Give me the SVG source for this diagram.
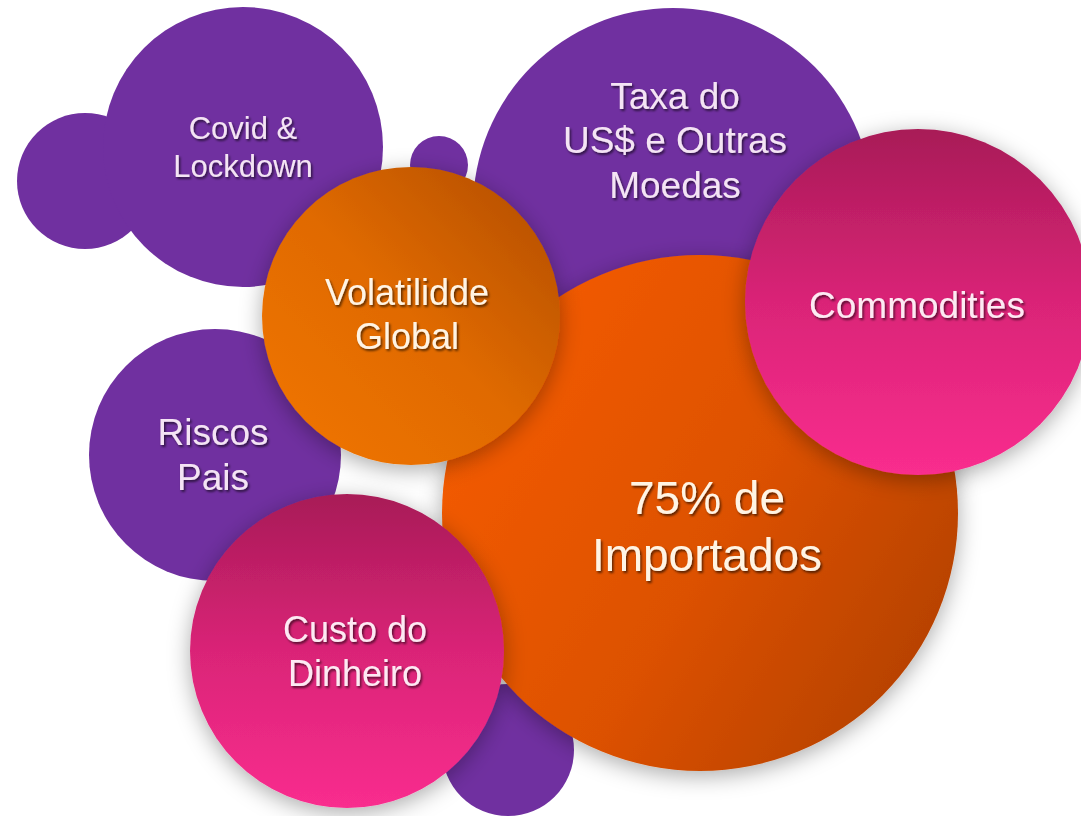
<svg xmlns="http://www.w3.org/2000/svg" width="1081" height="816" viewBox="0 0 1081 816">
<defs>
<linearGradient id="gVol" x1="0" y1="1" x2="1" y2="0">
<stop offset="0" stop-color="#F27600"/>
<stop offset="0.5" stop-color="#E06A00"/>
<stop offset="1" stop-color="#B04C00"/>
</linearGradient>
<linearGradient id="gImp" x1="0" y1="0.2" x2="1" y2="0.8">
<stop offset="0" stop-color="#F65C00"/>
<stop offset="0.55" stop-color="#DC5100"/>
<stop offset="1" stop-color="#B24000"/>
</linearGradient>
<linearGradient id="gPink" x1="0" y1="0" x2="0" y2="1">
<stop offset="0" stop-color="#A81B57"/>
<stop offset="0.5" stop-color="#DA2477"/>
<stop offset="1" stop-color="#F92D8E"/>
</linearGradient>
<filter id="sh" x="-25%" y="-25%" width="150%" height="150%">
<feDropShadow dx="0" dy="5" stdDeviation="11" flood-color="#000" flood-opacity="0.33"/>
</filter>
<filter id="tsh" x="-10%" y="-20%" width="120%" height="150%">
<feDropShadow dx="1.5" dy="2" stdDeviation="1.2" flood-color="#000" flood-opacity="0.6"/>
</filter>
</defs>
<style>
.p{fill:#7030A0}
.t{font-family:"Liberation Sans",Arial,sans-serif;text-anchor:middle;filter:url(#tsh)}
.tp{fill:#F4E4F4}
.to{fill:#FFF4E4}
.tk{fill:#FDEAF3}
</style>
<rect width="1081" height="816" fill="#FFFFFF"/>
<g id="bubble-small-left"><circle class="p" cx="85" cy="181" r="68"/></g>
<g id="node-covid">
<circle class="p" cx="243" cy="147" r="140"/>
<text class="t tp" font-size="31" x="243" y="139">Covid &amp;</text>
<text class="t tp" font-size="31" x="243" y="177">Lockdown</text>
</g>
<g id="bubble-tiny"><circle class="p" cx="439" cy="165" r="29"/></g>
<g id="node-taxa">
<circle class="p" cx="673" cy="208" r="200"/>
<text class="t tp" font-size="37" x="675" y="109">Taxa do</text>
<text class="t tp" font-size="37" x="675" y="153">US$ e Outras</text>
<text class="t tp" font-size="37" x="675" y="198">Moedas</text>
</g>
<g id="node-riscos">
<circle class="p" cx="215" cy="455" r="126"/>
<text class="t tp" font-size="37" x="213" y="445">Riscos</text>
<text class="t tp" font-size="37" x="213" y="490">Pais</text>
</g>
<g id="bubble-small-bottom"><circle class="p" cx="508" cy="750" r="66"/></g>
<g id="node-importados">
<circle cx="700" cy="513" r="258" fill="url(#gImp)" filter="url(#sh)"/>
<text class="t to" font-size="46" x="707" y="514">75% de</text>
<text class="t to" font-size="46" x="707" y="571">Importados</text>
</g>
<g id="node-volatilidade">
<circle cx="411" cy="316" r="149" fill="url(#gVol)" filter="url(#sh)"/>
<text class="t to" font-size="36" x="407" y="305">Volatilidde</text>
<text class="t to" font-size="36" x="407" y="349">Global</text>
</g>
<g id="node-commodities">
<circle cx="918" cy="302" r="173" fill="url(#gPink)" filter="url(#sh)"/>
<text class="t tk" font-size="37" x="917" y="318">Commodities</text>
</g>
<g id="node-custo">
<circle cx="347" cy="651" r="157" fill="url(#gPink)" filter="url(#sh)"/>
<text class="t tk" font-size="36" x="355" y="642">Custo do</text>
<text class="t tk" font-size="36" x="355" y="686">Dinheiro</text>
</g>
<g id="connectors"/>
</svg>
